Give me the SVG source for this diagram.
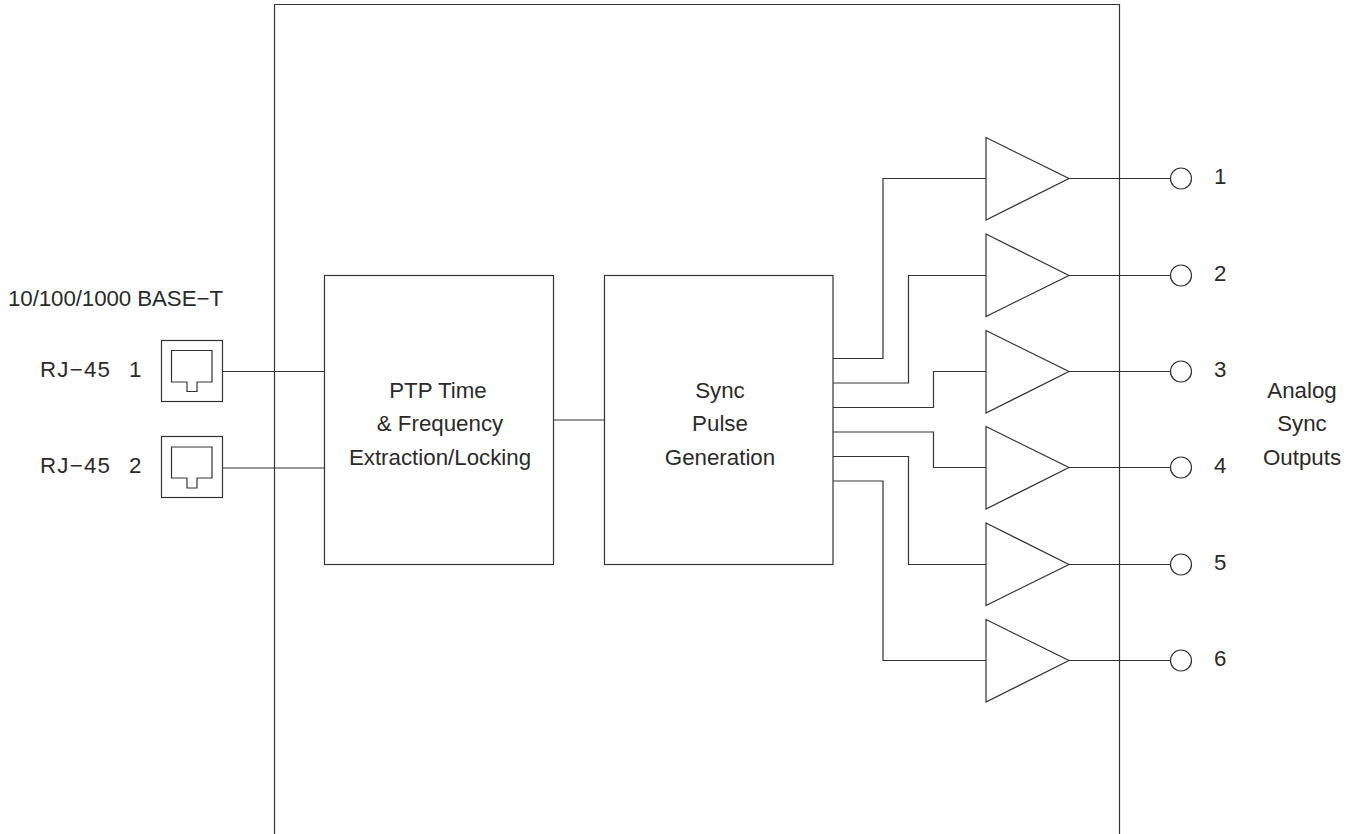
<svg xmlns="http://www.w3.org/2000/svg" width="1354" height="834" viewBox="0 0 1354 834">
<style>
.s{fill:none;stroke:#333;stroke-width:1.2}
.n{fill:#fff;stroke:#333;stroke-width:1.2}
text{font-family:"Liberation Sans",Arial,sans-serif;font-size:22.3px;fill:#2a2a2a}
.m{text-anchor:middle}
</style>
<rect width="1354" height="834" fill="#fff"/>
<g id="enclosure"><path class="s" d="M274.500 834V4.500H1119.500V834"/></g>
<g id="connectors" class="s">
<path d="M222.500 371.500H324.500"/>
<path d="M222.500 468H324.500"/>
<path d="M553.500 420H604.500"/>
<path d="M833 358.500H883V178.500H986"/>
<path d="M833 383H908.500V275.500H986"/>
<path d="M833 407.500H933.500V371.500H986"/>
<path d="M833 432H933.500V467.500H986"/>
<path d="M833 456.500H908.500V564.500H986"/>
<path d="M833 481H883V660.500H986"/>
<path d="M1069 178.500H1170"/>
<path d="M1069 275.500H1170"/>
<path d="M1069 371.500H1170"/>
<path d="M1069 467.500H1170"/>
<path d="M1069 564.500H1170"/>
<path d="M1069 660.500H1170"/>
</g>
<g id="label-base"><text x="8" y="306" textLength="215" lengthAdjust="spacing">10/100/1000 BASE−T</text></g>
<g id="rj45-1"><rect class="n" x="161.500" y="340.500" width="61" height="61"/><path class="s" d="M171.500 350.500H212V382H197V391.500H187V382H171.500Z"/><text x="40" y="377" textLength="70" lengthAdjust="spacing">RJ−45</text><text x="129" y="377">1</text></g>
<g id="rj45-2"><rect class="n" x="161.500" y="436.500" width="61" height="61"/><path class="s" d="M171.500 447H212V478H197V488H187V478H171.500Z"/><text x="40" y="473" textLength="70" lengthAdjust="spacing">RJ−45</text><text x="129" y="473">2</text></g>
<g id="ptp"><rect class="n" x="324.500" y="275.500" width="229" height="289"/><text class="m" x="438" y="398">PTP Time</text><text class="m" x="440" y="431">&amp; Frequency</text><text class="m" x="440" y="465">Extraction/Locking</text></g>
<g id="sync"><rect class="n" x="604.500" y="275.500" width="228.500" height="289"/><text class="m" x="720" y="398">Sync</text><text class="m" x="720" y="431">Pulse</text><text class="m" x="720" y="465">Generation</text></g>
<g id="amp-1"><path class="n" d="M986 137.500L1069 178.500L986 220Z"/></g>
<g id="amp-2"><path class="n" d="M986 234L1069 275.500L986 316.500Z"/></g>
<g id="amp-3"><path class="n" d="M986 330.500L1069 371.500L986 413Z"/></g>
<g id="amp-4"><path class="n" d="M986 426.500L1069 467.500L986 509Z"/></g>
<g id="amp-5"><path class="n" d="M986 523L1069 564.500L986 605.500Z"/></g>
<g id="amp-6"><path class="n" d="M986 619.500L1069 660.500L986 702Z"/></g>
<g id="out-1"><circle class="n" cx="1181" cy="178.500" r="10.500"/><text x="1214" y="184">1</text></g>
<g id="out-2"><circle class="n" cx="1181" cy="275.500" r="10.500"/><text x="1214" y="281">2</text></g>
<g id="out-3"><circle class="n" cx="1181" cy="371.500" r="10.500"/><text x="1214" y="377">3</text></g>
<g id="out-4"><circle class="n" cx="1181" cy="467.500" r="10.500"/><text x="1214" y="473">4</text></g>
<g id="out-5"><circle class="n" cx="1181" cy="564.500" r="10.500"/><text x="1214" y="570">5</text></g>
<g id="out-6"><circle class="n" cx="1181" cy="660.500" r="10.500"/><text x="1214" y="666">6</text></g>
<g id="label-outputs"><text class="m" x="1302" y="398">Analog</text><text class="m" x="1302" y="431">Sync</text><text class="m" x="1302" y="465">Outputs</text></g>
</svg>
